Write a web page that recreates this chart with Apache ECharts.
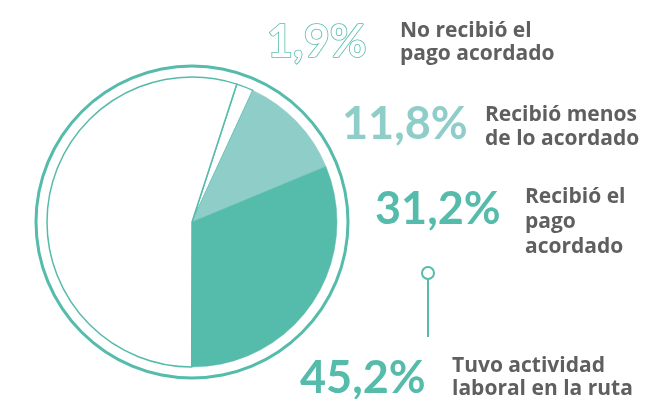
<!DOCTYPE html>
<html>
<head>
<meta charset="utf-8">
<script src="https://cdn.jsdelivr.net/npm/echarts@6/dist/echarts.min.js"></script>
<style>
  html, body { margin: 0; padding: 0; background: #fff; }
  #chart { width: 646px; height: 399px; }
</style>
</head>
<body>
<div id="chart"></div>
<script>
// Situación de pago entre quienes trabajaron en la ruta (%)
const categories = [
  'No recibió el\npago acordado',
  'Recibió menos\nde lo acordado',
  'Recibió el\npago\nacordado'
];
const values = [1.9, 11.8, 31.2];
const totalLabel = 'Tuvo actividad\nlaboral en la ruta';
const totalValue = 45.2;
const restName = 'Sin actividad laboral';
const restValue = 100 - totalValue;

const TEAL = '#55bbaa';
const LIGHT = '#8ecdc8';
const GREY = '#5f5f5f';
const NUM_FONT = 'Lato, "Open Sans", sans-serif';
const TXT_FONT = '"Open Sans", Lato, sans-serif';

const fmt = v => v.toFixed(1).replace('.', ',') + '%';

// fill / stroke of each slice
const sliceStyles = [
  { color: '#ffffff', borderColor: TEAL, borderWidth: 1.5 },
  { color: LIGHT, borderColor: LIGHT, borderWidth: 0.5 },
  { color: TEAL, borderColor: TEAL, borderWidth: 0.5 }
];

const pieData = values.map((v, i) => ({ name: categories[i], value: v, itemStyle: sliceStyles[i] }));
pieData.push({ name: restName, value: restValue, itemStyle: { color: '#ffffff', borderColor: TEAL, borderWidth: 1.5 } });

// label placement: [x of number, y of number, x of text, top of text, line height]
const labelPos = [
  [267, 42, 400, 19, 23.5],
  [342, 124, 485, 103.5, 23.5],
  [375, 209, 525, 184.5, 25]
];
const totalPos = [300, 378, 452, 355, 23];
const numColors = [TEAL, LIGHT, TEAL];

const graphics = [];
values.forEach((v, i) => {
  const p = labelPos[i];
  const numStyle = {
    text: fmt(v), x: p[0], y: p[1],
    font: 'bold 45px ' + NUM_FONT, verticalAlign: 'middle', align: 'left'
  };
  if (i === 0) {
    numStyle.fill = '#ffffff';
    numStyle.stroke = TEAL;
    numStyle.lineWidth = 1.6;
  } else {
    numStyle.fill = numColors[i];
  }
  graphics.push({ type: 'text', silent: true, style: numStyle });
  graphics.push({
    type: 'text', silent: true,
    style: {
      text: categories[i], x: p[2], y: p[3], fill: GREY,
      font: 'bold 21px ' + TXT_FONT, lineHeight: p[4], verticalAlign: 'top', align: 'left'
    }
  });
});

graphics.push({
  type: 'text', silent: true,
  style: { text: fmt(totalValue), x: totalPos[0], y: totalPos[1], fill: TEAL,
    font: 'bold 45px ' + NUM_FONT, verticalAlign: 'middle', align: 'left' }
});
graphics.push({
  type: 'text', silent: true,
  style: { text: totalLabel, x: totalPos[2], y: totalPos[3], fill: GREY,
    font: 'bold 21px ' + TXT_FONT, lineHeight: totalPos[4], verticalAlign: 'top', align: 'left' }
});
// connector with open circle
graphics.push({
  type: 'line', silent: true,
  shape: { x1: 428, y1: 279, x2: 428, y2: 337 },
  style: { stroke: TEAL, lineWidth: 2 }
});
graphics.push({
  type: 'circle', silent: true,
  shape: { cx: 428, cy: 273, r: 6 },
  style: { fill: '#ffffff', stroke: TEAL, lineWidth: 2 }
});

const chart = echarts.init(document.getElementById('chart'), null, { renderer: 'canvas' });
chart.setOption({
  animation: false,
  backgroundColor: '#ffffff',
  series: [
    {
      type: 'pie',
      silent: true,
      center: [192, 222],
      radius: [154.5, 157.5],
      label: { show: false },
      labelLine: { show: false },
      data: [{ value: 1, name: '', itemStyle: { color: TEAL } }]
    },
    {
      type: 'pie',
      silent: true,
      center: [192, 222],
      radius: [0, 145],
      startAngle: 72,
      clockwise: true,
      minAngle: 0,
      label: { show: false },
      labelLine: { show: false },
      emphasis: { disabled: true },
      data: pieData
    }
  ],
  graphic: graphics
});
</script>
</body>
</html>
